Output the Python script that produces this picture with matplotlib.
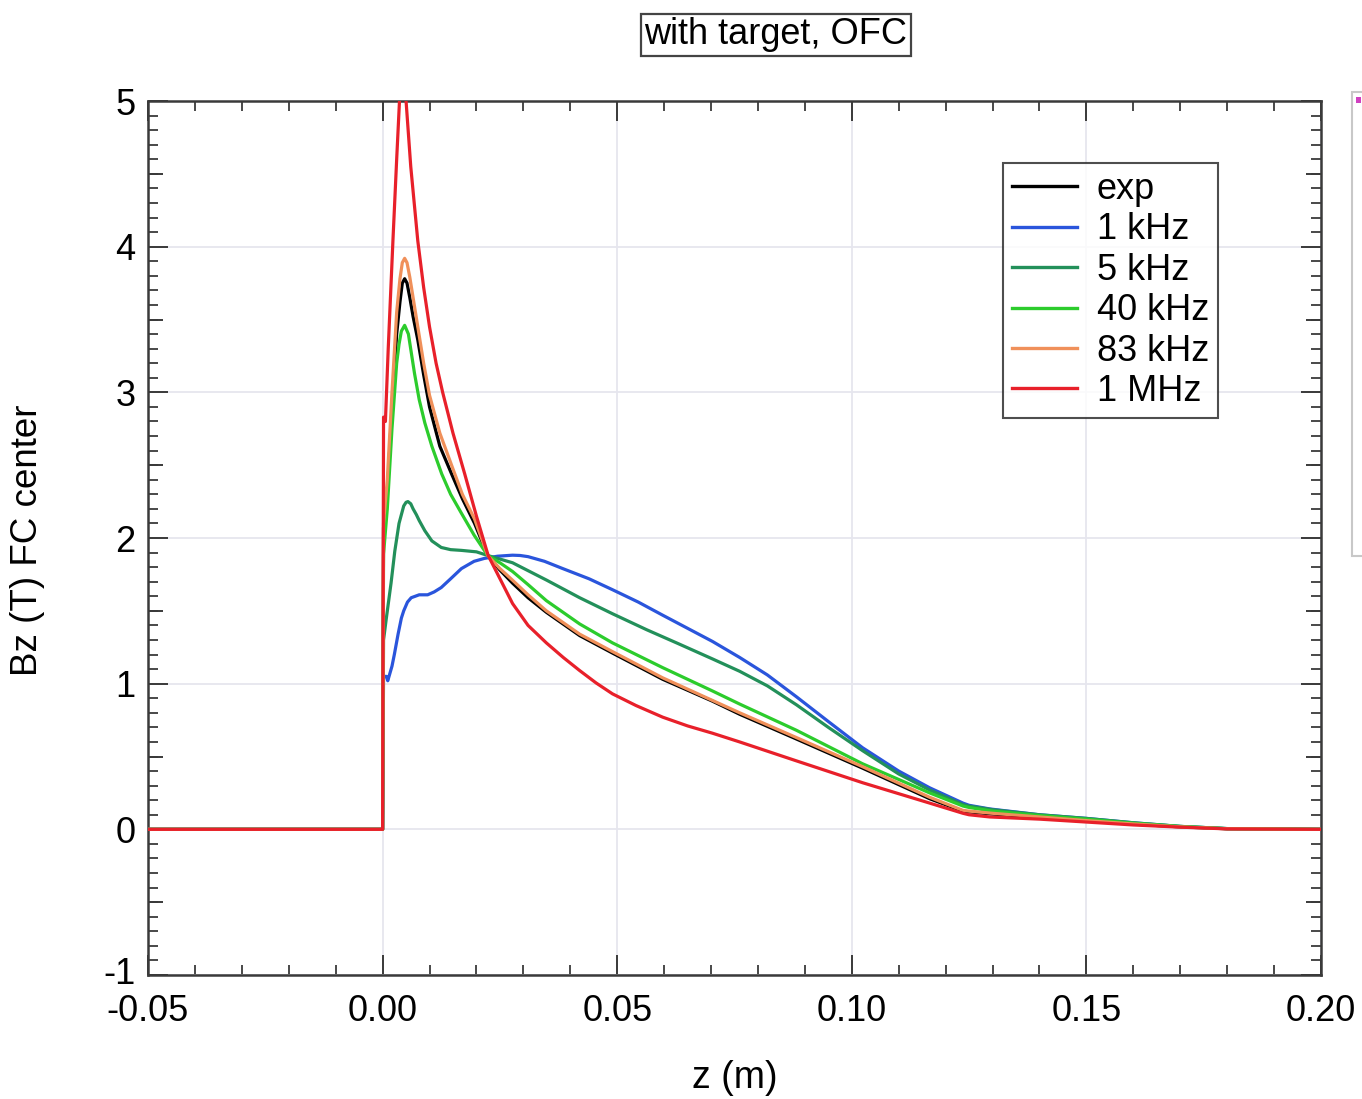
import numpy as np
import matplotlib
matplotlib.use("Agg")
import matplotlib.pyplot as plt
from matplotlib.ticker import MultipleLocator, NullFormatter, FixedLocator
from matplotlib.patches import Rectangle
from matplotlib.transforms import ScaledTranslation

plt.rcParams['font.family'] = ['Liberation Sans', 'DejaVu Sans']

# ---------------- data ----------------
labels = ["exp", "1 kHz", "5 kHz", "40 kHz", "83 kHz", "1 MHz"]
colors = ["#000000", "#2a55dc", "#23905a", "#2ccc2c", "#f0905a", "#e8202a"]

x_exp = [-0.05, 0.0, 0.0002, 0.001, 0.002, 0.003, 0.0037, 0.0042, 0.0047, 0.0052, 0.0058,
         0.0065, 0.0075, 0.00875, 0.010, 0.0122, 0.0147, 0.017, 0.0196, 0.0224, 0.025,
         0.0277, 0.031, 0.0349, 0.042, 0.049, 0.0597, 0.0703, 0.0761, 0.0882, 0.1023,
         0.1166, 0.1237, 0.125, 0.13, 0.14, 0.15, 0.16, 0.17, 0.18, 0.20]
y_exp = [0, 0, 2.07, 2.3, 2.9, 3.4, 3.62, 3.75, 3.78, 3.75, 3.65,
         3.52, 3.36, 3.12, 2.9, 2.63, 2.44, 2.27, 2.10, 1.88, 1.78,
         1.69, 1.59, 1.49, 1.33, 1.21, 1.03, 0.88, 0.79, 0.62, 0.42,
         0.21, 0.125, 0.12, 0.105, 0.082, 0.058, 0.036, 0.017, 0.004, 0.0]

x_1k = [-0.05, 0.0, 0.0002, 0.0008, 0.0011, 0.002, 0.0025, 0.0033, 0.004, 0.0045, 0.0053,
        0.0061, 0.0078, 0.0096, 0.011, 0.0125, 0.0145, 0.0168, 0.0195, 0.0217, 0.0245,
        0.0277, 0.0293, 0.031, 0.0345, 0.0384, 0.044, 0.049, 0.0545, 0.0597, 0.065, 0.0703,
        0.0761, 0.082, 0.0882, 0.095, 0.1023, 0.11, 0.1166, 0.1237, 0.125, 0.1294,
        0.14, 0.15, 0.16, 0.17, 0.18, 0.20]
y_1k = [0, 0, 1.05, 1.05, 1.02, 1.12, 1.20, 1.34, 1.45, 1.50, 1.56,
        1.59, 1.61, 1.61, 1.63, 1.66, 1.72, 1.79, 1.84, 1.86, 1.875,
        1.882, 1.88, 1.872, 1.84, 1.79, 1.72, 1.645, 1.56, 1.47, 1.38, 1.29,
        1.18, 1.06, 0.91, 0.74, 0.56, 0.40, 0.285, 0.18, 0.165, 0.14,
        0.10, 0.075, 0.045, 0.02, 0.005, 0.0]

x_5k = [-0.05, 0.0, 0.0002, 0.0008, 0.0018, 0.0026, 0.0035, 0.0045, 0.005, 0.0054, 0.006,
        0.0065, 0.0072, 0.0078, 0.009, 0.0105, 0.0125, 0.0145, 0.0168, 0.020, 0.0224,
        0.0277, 0.035, 0.042, 0.049, 0.0563, 0.063, 0.0703, 0.0761, 0.082, 0.0882,
        0.095, 0.1023, 0.11, 0.1166, 0.1237, 0.125, 0.13, 0.14, 0.15, 0.16, 0.17,
        0.18, 0.20]
y_5k = [0, 0, 1.30, 1.45, 1.69, 1.91, 2.10, 2.22, 2.245, 2.25, 2.235,
        2.20, 2.16, 2.12, 2.05, 1.98, 1.935, 1.92, 1.915, 1.905, 1.88,
        1.83, 1.71, 1.59, 1.48, 1.37, 1.275, 1.17, 1.085, 0.985, 0.855,
        0.70, 0.54, 0.38, 0.27, 0.17, 0.16, 0.135, 0.10, 0.075, 0.045, 0.02,
        0.005, 0.0]

x_40k = [-0.05, 0.0, 0.0002, 0.001, 0.002, 0.003, 0.0035, 0.004, 0.0047, 0.0055, 0.0068,
         0.0078, 0.009, 0.0105, 0.0126, 0.0145, 0.0168, 0.0195, 0.0224, 0.025, 0.0277,
         0.031, 0.0349, 0.042, 0.049, 0.0597, 0.0703, 0.0761, 0.0882, 0.1023, 0.1166,
         0.1237, 0.125, 0.13, 0.14, 0.15, 0.16, 0.17, 0.18, 0.20]
y_40k = [0, 0, 1.89, 2.2, 2.75, 3.2, 3.33, 3.42, 3.46, 3.40, 3.13,
         2.95, 2.79, 2.63, 2.44, 2.30, 2.17, 2.02, 1.88, 1.83, 1.77,
         1.68, 1.57, 1.41, 1.28, 1.11, 0.95, 0.86, 0.68, 0.45, 0.25,
         0.16, 0.15, 0.125, 0.095, 0.07, 0.042, 0.02, 0.005, 0.0]

x_83k = [-0.05, 0.0, 0.0002, 0.001, 0.002, 0.003, 0.0037, 0.0042, 0.0047, 0.0052, 0.0058,
         0.0065, 0.0075, 0.00875, 0.010, 0.0122, 0.0147, 0.017, 0.0196, 0.0224, 0.025,
         0.0277, 0.031, 0.0349, 0.042, 0.049, 0.0597, 0.0703, 0.0761, 0.0882, 0.1023,
         0.1166, 0.1237, 0.125, 0.13, 0.14, 0.15, 0.16, 0.17, 0.18, 0.20]
y_83k = [0, 0, 2.1, 2.4, 3.0, 3.55, 3.78, 3.89, 3.92, 3.89, 3.79,
         3.65, 3.45, 3.2, 2.98, 2.72, 2.50, 2.30, 2.13, 1.88, 1.79,
         1.71, 1.61, 1.50, 1.34, 1.22, 1.04, 0.885, 0.80, 0.63, 0.43,
         0.22, 0.13, 0.125, 0.11, 0.085, 0.06, 0.037, 0.017, 0.004, 0.0]

x_1M = [-0.05, 0.0, 0.0002, 0.0006, 0.0012, 0.0022, 0.003, 0.0036, 0.0043, 0.005, 0.006,
        0.0075, 0.00875, 0.010, 0.0114, 0.0128, 0.015, 0.0175, 0.020, 0.0225, 0.0277,
        0.031, 0.0349, 0.0385, 0.042, 0.0455, 0.049, 0.054, 0.0597, 0.065, 0.0703,
        0.0761, 0.0882, 0.1023, 0.1166, 0.1237, 0.125, 0.1294, 0.14, 0.15, 0.16,
        0.17, 0.18, 0.20]
y_1M = [0, 0, 2.83, 2.80, 3.30, 4.04, 4.60, 5.0, 5.3, 5.0, 4.55,
        4.04, 3.72, 3.45, 3.2, 3.0, 2.72, 2.44, 2.15, 1.88, 1.55,
        1.40, 1.28, 1.18, 1.09, 1.005, 0.93, 0.85, 0.77, 0.71, 0.66,
        0.60, 0.47, 0.32, 0.18, 0.11, 0.10, 0.085, 0.07, 0.05, 0.03,
        0.015, 0.003, 0.0]

series_x = [x_exp, x_1k, x_5k, x_40k, x_83k, x_1M]
series_y = [y_exp, y_1k, y_5k, y_40k, y_83k, y_1M]

x_ticks = [-0.05, 0.00, 0.05, 0.10, 0.15, 0.20]
x_ticklabels = ["-0.05", "0.00", "0.05", "0.10", "0.15", "0.20"]
y_ticks = [-1, 0, 1, 2, 3, 4, 5]
y_ticklabels = ["-1", "0", "1", "2", "3", "4", "5"]

# ---------------- figure ----------------
W, H = 1362, 1099
fig = plt.figure(figsize=(W / 100, H / 100), dpi=100)
L, R, T, B = 148, 1321, 101, 975
ax = fig.add_axes([L / W, 1 - B / H, (R - L) / W, (B - T) / H])

ax.grid(True, which='major', color='#e6e6ee', lw=1.3, zorder=0)
ax.set_axisbelow(True)

for xs, ys, c, lab in zip(series_x, series_y, colors, labels):
    ax.plot(xs, ys, color=c, lw=2.3, label=lab, zorder=3, clip_on=True,
            solid_joinstyle='round')

ax.set_xlim(-0.05, 0.20)
ax.set_ylim(-1, 5)
ax.set_xticks(x_ticks)
ax.set_xticklabels(x_ticklabels)
ax.set_yticks(y_ticks)
ax.set_yticklabels(y_ticklabels)
ax.xaxis.set_minor_locator(MultipleLocator(0.01))
ax.yaxis.set_minor_locator(MultipleLocator(0.1))

spine_c = '#3a3a3a'
for s in ax.spines.values():
    s.set_color(spine_c)
    s.set_linewidth(1.8)

ax.tick_params(which='both', direction='in', top=True, right=True, color=spine_c)
ax.tick_params(which='major', length=14.5, width=1.4, labelsize=26)
ax.tick_params(axis='x', which='major', pad=14)
ax.tick_params(axis='y', which='major', pad=9)
ax.tick_params(which='minor', length=7.5, width=1.3)

# nudge the lowest y label up a little, as in the reference
lab_m1 = ax.get_yticklabels()[0]
lab_m1.set_transform(lab_m1.get_transform() + ScaledTranslation(0, 3 / 72, fig.dpi_scale_trans))

# medium ticks at half-integers on y
for side in ('left', 'right'):
    sec = ax.secondary_yaxis(side, functions=(lambda v: v, lambda v: v))
    sec.set_yticks([-0.5, 0.5, 1.5, 2.5, 3.5, 4.5])
    sec.yaxis.set_major_formatter(NullFormatter())
    sec.yaxis.set_minor_locator(FixedLocator([]))
    sec.tick_params(direction='in', length=10.8, width=1.4, color=spine_c)
    sec.spines[side].set_visible(False)

leg = ax.legend(loc='upper right', bbox_to_anchor=(1218 / W, 1 - 163 / H),
                bbox_transform=fig.transFigure, borderaxespad=0, fontsize=26,
                frameon=True, fancybox=False, handlelength=1.8, handletextpad=0.55,
                labelspacing=0.15, borderpad=0.25)
leg.get_frame().set_edgecolor('#222222')
leg.get_frame().set_linewidth(1.5)
for h in leg.get_lines():
    h.set_linewidth(2.4)

fig.text(776 / W, 1 - 35 / H, "with target, OFC", fontsize=26, ha='center', va='center',
         bbox=dict(boxstyle='square,pad=0.1', fc='white', ec='#444444', lw=1.6))
fig.text(735 / W, 1 - 1078 / H, "z (m)", fontsize=27, ha='center', va='center')
fig.text(28 / W, 1 - 540 / H, "Bz (T) FC center", fontsize=26.5, ha='center', va='center',
         rotation=90)

# partial panel at the right edge
fig.patches.append(Rectangle((1352 / W, 1 - 556 / H), 20 / W, 464 / H,
                             transform=fig.transFigure, fc='white', ec='#c8c8c8', lw=1.5))
fig.patches.append(Rectangle((1356 / W, 1 - 103 / H), 5 / W, 6 / H,
                             transform=fig.transFigure, fc='#d040c0', ec='none'))

fig.savefig("out.png", dpi=100)
